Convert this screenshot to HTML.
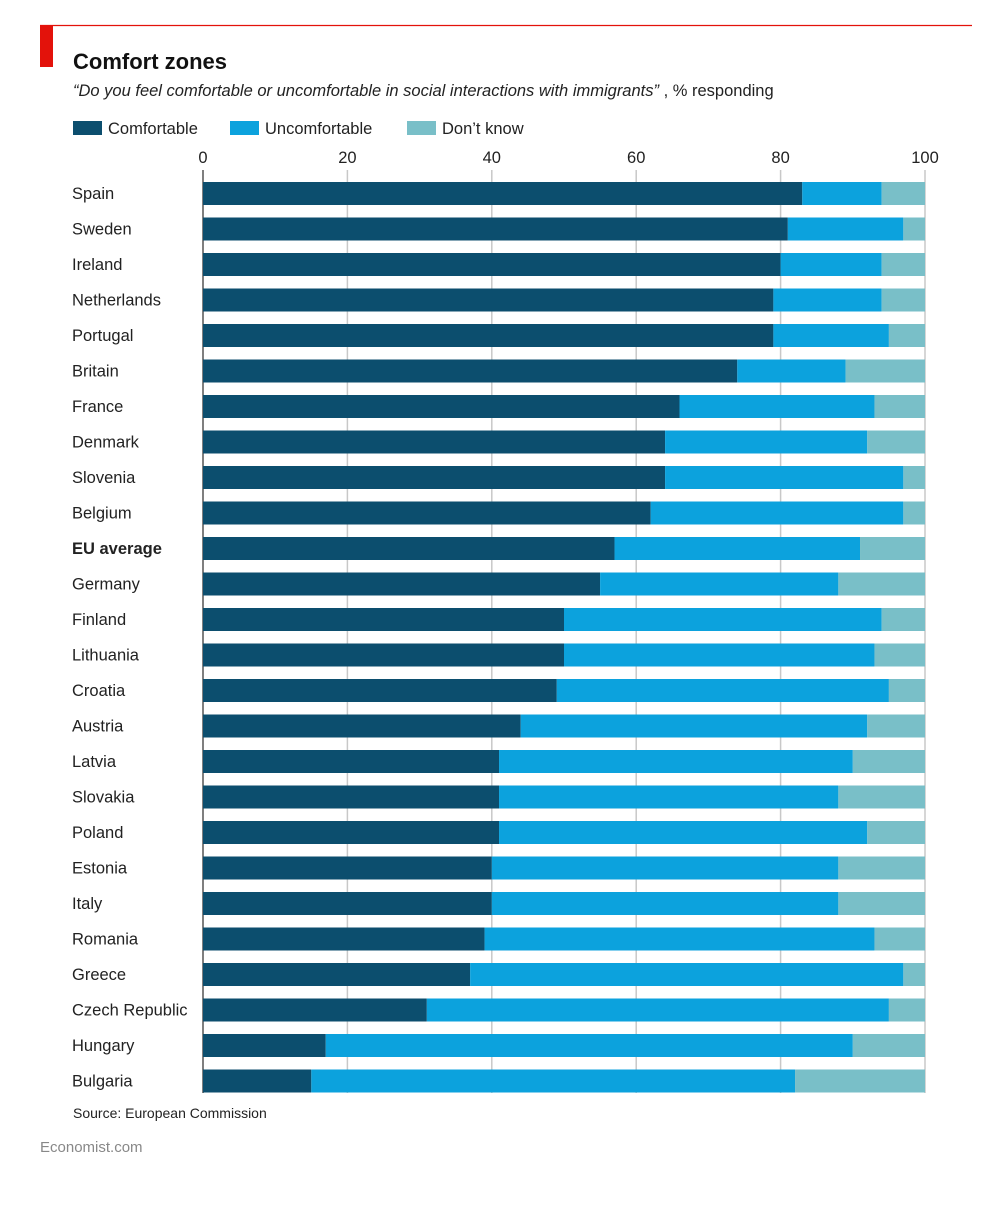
<!DOCTYPE html>
<html><head><meta charset="utf-8"><style>
body{margin:0;background:#fff;width:998px;height:1200px;overflow:hidden;font-family:"Liberation Sans",sans-serif;}
</style></head><body>
<svg width="998" height="1200" viewBox="0 0 998 1200" id="chart" style="font-family:'Liberation Sans',sans-serif">
<line x1="40" y1="25.5" x2="972" y2="25.5" stroke="#e3120b" stroke-width="1.2"/>
<rect x="40" y="25" width="13" height="42" fill="#e3120b"/>
<text x="73" y="69" font-size="22" font-weight="bold" fill="#111">Comfort zones</text>
<text x="73" y="96" font-size="16.5" fill="#222"><tspan font-style="italic">“Do you feel comfortable or uncomfortable in social interactions with immigrants”</tspan> , % responding</text>
<g>
<rect x="73" y="121" width="29" height="14" fill="#0c4e6e"/>
<text x="108" y="134" font-size="16.5" fill="#222">Comfortable</text>
<rect x="230" y="121" width="29" height="14" fill="#0ca2dd"/>
<text x="265" y="134" font-size="16.5" fill="#222">Uncomfortable</text>
<rect x="407" y="121" width="29" height="14" fill="#79bfc8"/>
<text x="442" y="134" font-size="16.5" fill="#222">Don’t know</text>
</g>
<g id="grid"></g><g id="bars"></g><g id="labels"></g>
<text x="73" y="1118" font-size="14" fill="#222">Source: European Commission</text>
<text x="40" y="1152" font-size="15" fill="#888">Economist.com</text>
</svg>
<script>
const countries=["Spain","Sweden","Ireland","Netherlands","Portugal","Britain","France","Denmark","Slovenia","Belgium","EU average","Germany","Finland","Lithuania","Croatia","Austria","Latvia","Slovakia","Poland","Estonia","Italy","Romania","Greece","Czech Republic","Hungary","Bulgaria"];
const comfortable=[83,81,80,79,79,74,66,64,64,62,57,55,50,50,49,44,41,41,41,40,40,39,37,31,17,15];
const uncomfortable=[11,16,14,15,16,15,27,28,33,35,34,33,44,43,46,48,49,47,51,48,48,54,60,64,73,67];
const dontKnow=[6,3,6,6,5,11,7,8,3,3,9,12,6,7,5,8,10,12,8,12,12,7,3,5,10,18];
const ticks=[0,20,40,60,80,100];
const NS="http://www.w3.org/2000/svg";
const x=v=>203+v*7.22;
const y=i=>182+i*35.5;
const bh=23;
function mk(tag,attrs,parent){const e=document.createElementNS(NS,tag);for(const k in attrs)e.setAttribute(k,attrs[k]);parent.appendChild(e);return e;}
const grid=document.getElementById('grid'),bars=document.getElementById('bars'),labels=document.getElementById('labels');
ticks.forEach(t=>{
  const l=mk('line',{x1:x(t),x2:x(t),y1:170,y2:1093,stroke:t===0?'#555':'#c8c8c8','stroke-width':t===0?1.5:1.5},grid);
  
  
  const tx=mk('text',{x:x(t),y:163,'font-size':16.5,fill:'#222','text-anchor':'middle'},grid);
  tx.textContent=t;
  
  
});
countries.forEach((c,i)=>{
  const segs=[[comfortable[i],'#0c4e6e','comfortable'],[uncomfortable[i],'#0ca2dd','uncomfortable'],[dontKnow[i],'#79bfc8','dont-know']];
  let acc=0;
  segs.forEach(s=>{
    const r=mk('rect',{x:x(acc),y:y(i),width:x(acc+s[0])-x(acc),height:bh,fill:s[1]},bars);
    
    
    acc+=s[0];
  });
  const t=mk('text',{x:72,y:y(i)+17,'font-size':16.5,fill:'#222','font-weight':c==='EU average'?'bold':'normal'},labels);
  t.textContent=c;
  
  
});
</script>
</body></html>
